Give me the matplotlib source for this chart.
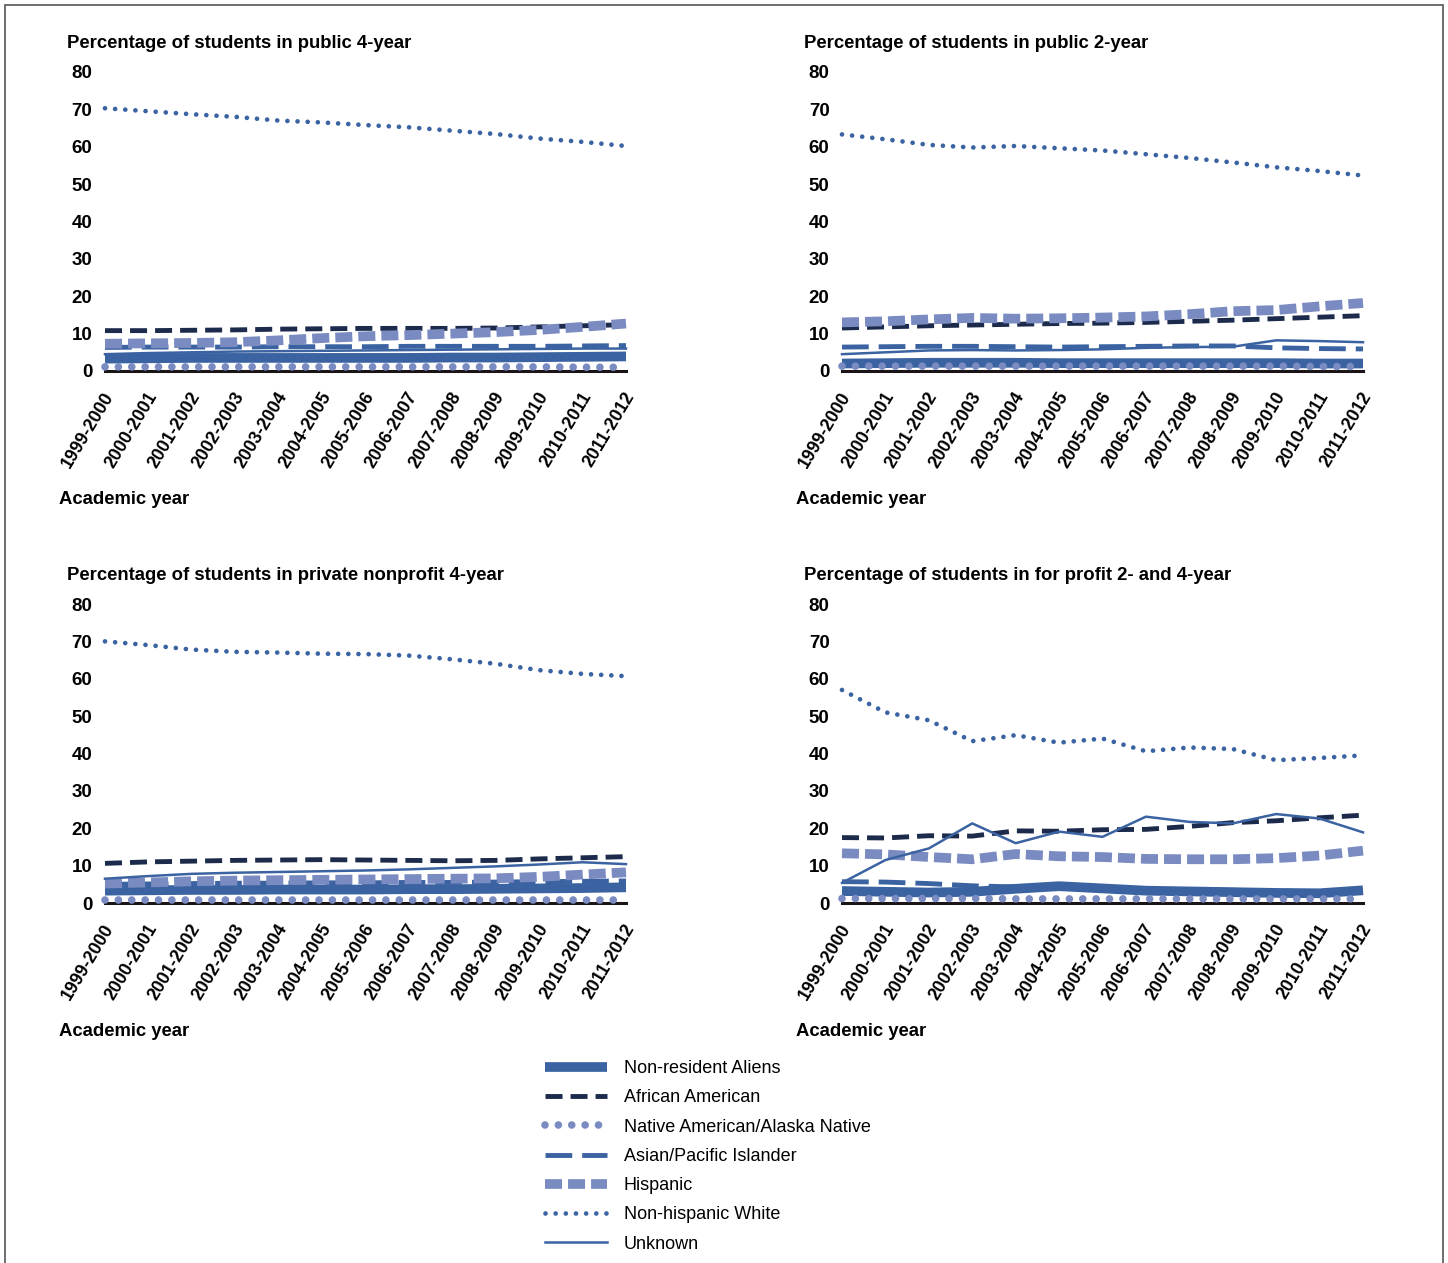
import matplotlib
matplotlib.use("Agg")
import matplotlib.pyplot as plt
from matplotlib.lines import Line2D
from matplotlib.patches import Rectangle
from matplotlib.transforms import ScaledTranslation

plt.rcParams['font.family'] = ['Liberation Sans', 'DejaVu Sans']

years = ["1999-2000", "2000-2001", "2001-2002", "2002-2003", "2003-2004",
         "2004-2005", "2005-2006", "2006-2007", "2007-2008", "2008-2009",
         "2009-2010", "2010-2011", "2011-2012"]

titles = ["Percentage of students in public 4-year",
          "Percentage of students in public 2-year",
          "Percentage of students in private nonprofit 4-year",
          "Percentage of students in for profit 2- and 4-year"]

# one row per panel (public 4yr, public 2yr, private nonprofit, for profit)
nonresident = [
    [3.3, 3.4, 3.5, 3.5, 3.5, 3.5, 3.5, 3.5, 3.6, 3.6, 3.7, 3.8, 3.9],
    [2.0, 2.1, 2.2, 2.2, 2.2, 2.1, 2.1, 2.1, 2.1, 2.1, 2.1, 2.0, 2.0],
    [3.3, 3.4, 3.5, 3.5, 3.6, 3.6, 3.6, 3.7, 3.7, 3.8, 3.9, 4.0, 4.2],
    [3.2, 3.0, 2.8, 3.0, 3.8, 4.5, 3.9, 3.3, 3.1, 2.9, 2.7, 2.6, 3.4],
]
african_american = [
    [10.8, 10.8, 10.9, 11.0, 11.2, 11.3, 11.4, 11.4, 11.4, 11.5, 11.8, 12.1, 12.4],
    [11.5, 11.8, 12.1, 12.3, 12.5, 12.7, 12.8, 13.0, 13.3, 13.6, 14.0, 14.4, 14.8],
    [10.6, 11.0, 11.2, 11.4, 11.5, 11.6, 11.5, 11.4, 11.3, 11.4, 11.8, 12.1, 12.4],
    [17.5, 17.4, 18.0, 17.9, 19.3, 19.2, 19.6, 19.7, 20.5, 21.5, 22.0, 22.8, 23.5],
]
native_american = [
    [1.1, 1.1, 1.1, 1.1, 1.1, 1.1, 1.1, 1.1, 1.1, 1.1, 1.1, 1.0, 1.0],
    [1.3, 1.3, 1.3, 1.3, 1.3, 1.3, 1.3, 1.3, 1.3, 1.3, 1.3, 1.2, 1.2],
    [0.8, 0.8, 0.8, 0.8, 0.8, 0.8, 0.8, 0.8, 0.8, 0.8, 0.8, 0.8, 0.8],
    [1.2, 1.2, 1.2, 1.2, 1.1, 1.1, 1.1, 1.1, 1.1, 1.1, 1.1, 1.1, 1.1],
]
asian = [
    [6.3, 6.4, 6.4, 6.4, 6.5, 6.5, 6.5, 6.6, 6.6, 6.6, 6.6, 6.7, 6.8],
    [6.4, 6.5, 6.6, 6.6, 6.5, 6.4, 6.5, 6.6, 6.7, 6.7, 6.2, 6.0, 5.9],
    [5.0, 5.1, 5.2, 5.3, 5.3, 5.4, 5.4, 5.5, 5.5, 5.6, 5.7, 5.8, 5.9],
    [5.7, 5.6, 5.2, 4.6, 4.3, 4.4, 4.0, 3.6, 3.5, 3.4, 3.2, 3.0, 3.3],
]
hispanic = [
    [7.3, 7.4, 7.5, 7.7, 8.2, 8.8, 9.3, 9.6, 10.0, 10.4, 11.0, 11.8, 12.7],
    [13.0, 13.3, 13.8, 14.2, 14.0, 14.1, 14.3, 14.6, 15.2, 16.0, 16.3, 17.3, 18.2],
    [5.2, 5.5, 5.8, 6.0, 6.1, 6.2, 6.3, 6.4, 6.5, 6.6, 7.0, 7.6, 8.2],
    [13.3, 13.0, 12.3, 11.7, 13.1, 12.5, 12.3, 11.8, 11.7, 11.7, 12.0, 12.7, 14.0],
]
white = [
    [70.3, 69.5, 68.7, 68.0, 67.0, 66.5, 65.8, 65.2, 64.3, 63.4, 62.2, 61.3, 60.2],
    [63.3, 62.0, 60.5, 59.8, 60.2, 59.6, 59.0, 58.0, 57.0, 55.8, 54.5, 53.5, 52.3],
    [70.0, 69.0, 67.8, 67.2, 67.0, 66.7, 66.6, 66.2, 65.2, 64.0, 62.3, 61.3, 60.7],
    [57.0, 51.0, 48.9, 43.3, 44.9, 42.9, 44.0, 40.6, 41.6, 41.2, 38.2, 38.8, 39.5],
]
unknown = [
    [4.5, 4.8, 5.0, 5.2, 5.3, 5.4, 5.5, 5.6, 5.7, 5.8, 5.9, 6.0, 6.0],
    [4.5, 5.0, 5.5, 5.6, 5.5, 5.6, 5.8, 6.2, 6.4, 6.5, 8.2, 8.0, 7.7],
    [6.5, 7.2, 7.8, 8.1, 8.3, 8.5, 8.7, 9.0, 9.4, 9.8, 10.3, 10.9, 10.4],
    [5.4, 11.5, 14.6, 21.3, 16.0, 19.1, 17.7, 23.1, 21.7, 21.3, 23.8, 22.6, 18.9],
]

BLUE = "#3b63a2"
NAVY = "#1c2a4c"
LIGHT = "#7a8bc1"

# label, data, style
series = [
    ("Non-resident Aliens", nonresident,
     dict(color=BLUE, lw=7, linestyle="-", solid_capstyle="butt")),
    ("African American", african_american,
     dict(color=NAVY, lw=3.5, linestyle=(0, (3.5, 1.65)), dash_capstyle="butt")),
    ("Native American/Alaska Native", native_american,
     dict(color=LIGHT, lw=5.5, linestyle=(0, (0.001, 1.75)), dash_capstyle="round")),
    ("Asian/Pacific Islander", asian,
     dict(color=BLUE, lw=3.5, linestyle=(0, (5.5, 2.05)), dash_capstyle="butt")),
    ("Hispanic", hispanic,
     dict(color=LIGHT, lw=7, linestyle=(0, (1.75, 0.62)), dash_capstyle="butt")),
    ("Non-hispanic White", white,
     dict(color=BLUE, lw=3.4, linestyle=(0, (0.001, 2.15)), dash_capstyle="round")),
    ("Unknown", unknown,
     dict(color=BLUE, lw=1.8, linestyle="-")),
]

fig = plt.figure(figsize=(14.48, 12.63), dpi=100)

W, H = 1448.0, 1263.0
# left edge px, zero line px for each panel
panel_pos = [(105, 371), (842, 371), (105, 903), (842, 903)]
panel_w = 521
panel_h = 299

x = list(range(len(years)))
shift = ScaledTranslation(5 / 100, 0, fig.dpi_scale_trans)

for i, (px, py) in enumerate(panel_pos):
    ax = fig.add_axes([px / W, 1 - py / H, panel_w / W, panel_h / H])
    for label, data, style in series:
        ax.plot(x, data[i], label=label, clip_on=False, zorder=3, **style)
    ax.set_xlim(0, 12)
    ax.set_ylim(0, 80)
    ax.set_yticks(range(0, 81, 10))
    for side in ["left", "right", "top"]:
        ax.spines[side].set_visible(False)
    ax.spines["bottom"].set_color("#1a1416")
    ax.spines["bottom"].set_linewidth(2.2)
    ax.spines["bottom"].set_zorder(1)
    ax.set_xticks(x)
    ax.set_xticklabels(years, rotation=59, ha="right", va="center",
                       rotation_mode="anchor", fontsize=12.8, fontweight="bold")
    ax.tick_params(axis="x", length=0, pad=16)
    ax.tick_params(axis="y", length=0, pad=9, labelsize=13.5)
    for t in ax.get_xticklabels():
        t.set_transform(t.get_transform() + shift)
    for t in ax.get_yticklabels():
        t.set_fontweight("bold")
    fig.text((px - 38) / W, 1 - (py - 328) / H, titles[i], fontsize=13.3,
             fontweight="bold", va="center", ha="left")
    fig.text((px - 46) / W, 1 - (py + 128) / H, "Academic year", fontsize=13.3,
             fontweight="bold", va="center", ha="left")

handles = [Line2D([0], [0], **style) for label, data, style in series]
labels = [label for label, data, style in series]
fig.legend(handles, labels, loc="upper left", bbox_to_anchor=(545 / W, 1 - 1060 / H),
           frameon=False, fontsize=13, handlelength=3.45, handletextpad=0.9,
           labelspacing=0.68, borderpad=0, borderaxespad=0)

# thin frame around the whole figure
fig.patches.append(Rectangle((5 / W, -0.02), 1438 / W, 1.02 - 5 / H,
                             transform=fig.transFigure, fill=False,
                             edgecolor="#555555", lw=1.2))

fig.savefig("out.png", dpi=100)
